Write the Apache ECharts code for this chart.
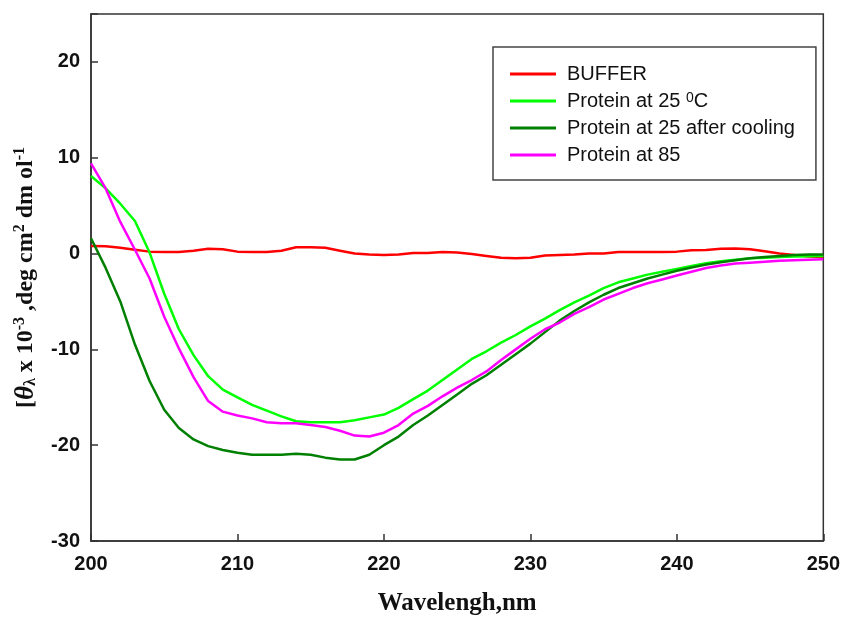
<!DOCTYPE html>
<html>
<head>
<meta charset="utf-8">
<script src="https://cdn.jsdelivr.net/npm/echarts@6/dist/echarts.min.js"></script>
<style>
html,body{margin:0;padding:0;background:#fff;}
#c{width:843px;height:621px;}
</style>
</head>
<body>
<div id="c"></div>
<script>
// Wavelength (nm)
var wavelengths = [200,201,202,203,204,205,206,207,208,209,210,211,212,213,214,215,216,217,218,219,220,221,222,223,224,225,226,227,228,229,230,231,232,233,234,235,236,237,238,239,240,241,242,243,244,245,246,247,248,249,250];

var buffer = [0.8,0.75,0.6,0.4,0.2,0.15,0.15,0.3,0.5,0.45,0.2,0.15,0.15,0.3,0.65,0.65,0.6,0.3,0.0,-0.1,-0.15,-0.1,0.05,0.05,0.15,0.1,-0.05,-0.25,-0.45,-0.5,-0.45,-0.2,-0.15,-0.1,0.0,0.0,0.15,0.15,0.17,0.17,0.2,0.35,0.38,0.5,0.52,0.45,0.25,0.0,-0.15,-0.3,-0.35];

var protein25 = [8.1,6.8,5.2,3.4,0.1,-4.2,-7.9,-10.6,-12.8,-14.2,-15.0,-15.8,-16.4,-17.0,-17.5,-17.6,-17.6,-17.6,-17.4,-17.1,-16.8,-16.1,-15.2,-14.3,-13.2,-12.1,-11.0,-10.2,-9.3,-8.5,-7.6,-6.8,-5.9,-5.1,-4.4,-3.6,-3.0,-2.6,-2.2,-1.9,-1.6,-1.3,-1.0,-0.8,-0.65,-0.5,-0.45,-0.35,-0.3,-0.28,-0.25];

var protein25Cooled = [1.6,-1.5,-5.0,-9.5,-13.3,-16.3,-18.2,-19.4,-20.1,-20.5,-20.8,-21.0,-21.0,-21.0,-20.9,-21.0,-21.3,-21.5,-21.5,-21.0,-20.0,-19.1,-17.9,-16.9,-15.8,-14.7,-13.6,-12.7,-11.6,-10.5,-9.4,-8.2,-7.0,-6.0,-5.1,-4.3,-3.6,-3.1,-2.6,-2.2,-1.8,-1.45,-1.15,-0.9,-0.7,-0.5,-0.35,-0.25,-0.15,-0.1,-0.1];

var protein85 = [9.4,6.8,3.3,0.4,-2.6,-6.6,-9.9,-12.9,-15.4,-16.5,-16.9,-17.2,-17.6,-17.7,-17.7,-17.9,-18.1,-18.5,-19.0,-19.1,-18.7,-17.9,-16.7,-15.9,-14.9,-14.0,-13.2,-12.3,-11.1,-10.0,-8.9,-7.9,-7.2,-6.3,-5.6,-4.8,-4.2,-3.6,-3.1,-2.7,-2.3,-1.9,-1.5,-1.25,-1.05,-0.95,-0.85,-0.75,-0.7,-0.65,-0.6];

var seriesNames = ['BUFFER', 'Protein at 25 °C', 'Protein at 25 after cooling', 'Protein at 85'];
var seriesColors = ['#ff0000', '#00ff00', '#008000', '#ff00ff'];
var seriesValues = [buffer, protein25, protein25Cooled, protein85];

var xTicks = [200, 210, 220, 230, 240, 250];
var yTicks = [-30, -20, -10, 0, 10, 20];

function pairs(vals) {
  return wavelengths.map(function (w, i) { return [w, vals[i]]; });
}

var chart = echarts.init(document.getElementById('c'), null, {renderer: 'canvas'});

var series = seriesNames.map(function (n, i) {
  return {
    name: n,
    type: 'line',
    data: pairs(seriesValues[i]),
    showSymbol: false,
    symbol: 'none',
    color: seriesColors[i],
    lineStyle: {width: 2.5, color: seriesColors[i]},
    z: 2 + i,
    animation: false
  };
});

var serif = 'Liberation Serif, Times New Roman, serif';
var sans = 'Liberation Sans, Arial, sans-serif';

chart.setOption({
  animation: false,
  backgroundColor: '#fff',
  grid: {
    left: 91, top: 14, right: 18, bottom: 79,
    show: true, borderColor: '#333', borderWidth: 1.5, backgroundColor: 'transparent'
  },
  legend: {
    orient: 'vertical',
    left: 493, top: 47,
    padding: [17, 21, 15, 17],
    itemGap: 7,
    itemWidth: 46,
    itemHeight: 3,
    icon: 'rect',
    borderColor: '#444',
    borderWidth: 1.5,
    backgroundColor: '#fff',
    data: seriesNames,
    formatter: function (name) {
      if (name === 'Protein at 25 °C') return 'Protein at 25 {sup|0}C';
      return name;
    },
    textStyle: {
      fontFamily: sans,
      fontSize: 20,
      color: '#111',
      lineHeight: 20,
      padding: [0, 0, 0, 6],
      rich: {
        sup: {fontSize: 14, fontFamily: sans, color: '#111', lineHeight: 14, verticalAlign: 'top'}
      }
    }
  },
  xAxis: {
    type: 'value',
    min: 200, max: 250, interval: 10,
    name: 'Wavelengh,nm',
    nameLocation: 'middle',
    nameGap: 50,
    nameTextStyle: {fontFamily: serif, fontWeight: 'bold', fontSize: 25, color: '#111'},
    axisLine: {show: true, onZero: false, lineStyle: {color: '#333', width: 1.5}},
    axisTick: {show: true, inside: true, length: 7, lineStyle: {color: '#333', width: 1.5}},
    axisLabel: {
      margin: 13,
      fontFamily: sans, fontWeight: 'bold', fontSize: 20, color: '#111',
      formatter: function (v) { return xTicks.indexOf(v) >= 0 ? String(v) : ''; }
    },
    splitLine: {show: false}
  },
  yAxis: {
    type: 'value',
    min: -30, max: 25, interval: 10,
    name: '{b|[}{i|θ}{sub|λ}{b| x 10}{sup|-3}{b| ,deg cm}{sup|2}{b| dm ol}{sup|-1}',
    nameLocation: 'middle',
    nameRotate: 90,
    nameGap: 50,
    nameMoveOverlap: false,
    nameTextStyle: {
      fontFamily: serif, fontWeight: 'bold', fontSize: 24, color: '#111',
      rich: {
        b: {fontFamily: serif, fontWeight: 'bold', fontSize: 24, color: '#111', lineHeight: 30},
        i: {fontFamily: serif, fontWeight: 'bold', fontStyle: 'italic', fontSize: 27, color: '#111', lineHeight: 30},
        sub: {fontFamily: serif, fontWeight: 'bold', fontSize: 16, color: '#111', padding: [10, 0, 0, 0], lineHeight: 30},
        sup: {fontFamily: serif, fontWeight: 'bold', fontSize: 16, color: '#111', padding: [0, 0, 12, 0], lineHeight: 30}
      }
    },
    axisLine: {show: true, onZero: false, lineStyle: {color: '#333', width: 1.5}},
    axisTick: {show: true, inside: true, length: 7, lineStyle: {color: '#333', width: 1.5}},
    axisLabel: {
      margin: 11,
      fontFamily: sans, fontWeight: 'bold', fontSize: 20, color: '#111',
      formatter: function (v) { return yTicks.indexOf(v) >= 0 ? String(v) : ''; }
    },
    splitLine: {show: false}
  },
  series: series
});
</script>
</body>
</html>
